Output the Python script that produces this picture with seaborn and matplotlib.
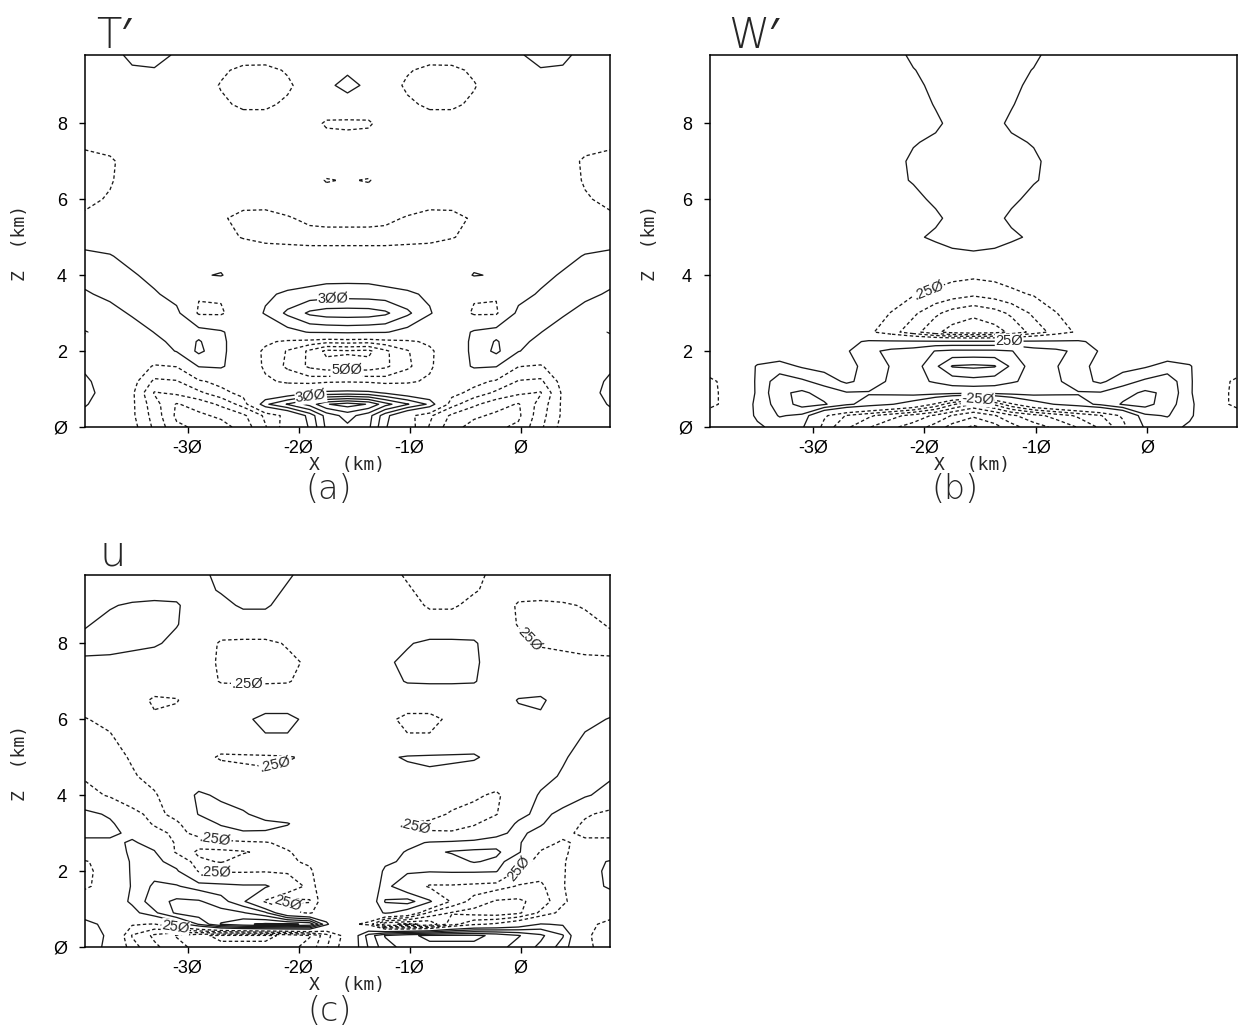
import numpy as np
import matplotlib
matplotlib.use("Agg")
import matplotlib.pyplot as plt
import seaborn as sns

# ---------------- data ----------------
x_km = [-39.25, -37, -35, -33, -31, -29, -27, -25, -23, -21, -19, -17.5, -15.6,
        -13.7, -12.2, -10.2, -8.2, -6.2, -4.2, -2.2, -0.2, 1.8, 3.8, 5.8, 8.05]
z_tw = [0, 0.3, 0.6, 0.9, 1.2, 1.6, 2.0, 2.25, 2.5, 3.0, 3.5, 4.0, 4.5, 5.0, 5.5,
        6.0, 6.5, 7.0, 7.5, 8.0, 8.5, 9.0, 9.4, 9.8]
z_u = [0, 0.3, 0.6, 0.9, 1.2, 1.6, 2.0, 2.25, 2.5, 2.75, 3.0, 3.25, 3.5, 4.0, 4.5,
       5.0, 5.5, 6.0, 6.5, 7.0, 7.5, 8.0, 8.5, 9.0, 9.4, 9.8]

T_prime = [
    [0.0, 0.0, -0.15, -0.55, -0.95, -1.05, -1.1, -0.9, -0.52, -0.1, 0.28, 0.8, 0.95, 0.8, 0.28, -0.1, -0.52, -0.9, -1.1, -1.05, -0.95, -0.55, -0.15, 0.0, 0.0],
    [0.15, 0.0, -0.2, -0.6, -1.05, -1.05, -0.95, -0.8, -0.45, -0.15, 0.35, 0.85, 1.1, 0.85, 0.35, -0.15, -0.45, -0.8, -0.95, -1.05, -1.05, -0.6, -0.2, 0.0, 0.15],
    [0.28, 0.05, -0.2, -0.65, -1.02, -0.9, -0.7, -0.4, 0.45, 0.77, 1.1, 1.48, 1.62, 1.48, 1.1, 0.77, 0.45, -0.4, -0.7, -0.9, -1.02, -0.65, -0.2, 0.05, 0.28],
    [0.35, 0.1, -0.2, -0.77, -0.7, -0.55, -0.35, -0.15, -0.05, 0.05, 0.22, 0.33, 0.36, 0.33, 0.22, 0.05, -0.05, -0.15, -0.35, -0.55, -0.7, -0.77, -0.2, 0.1, 0.35],
    [0.3, 0.1, -0.15, -0.55, -0.52, -0.3, -0.15, -0.05, -0.2, -0.3, -0.35, -0.3, -0.28, -0.3, -0.35, -0.3, -0.2, -0.05, -0.15, -0.3, -0.52, -0.55, -0.15, 0.1, 0.3],
    [0.2, 0.0, -0.05, -0.28, -0.24, 0.27, 0.3, 0.0, -0.3, -0.55, -0.8, -0.9, -0.9, -0.9, -0.8, -0.55, -0.3, 0.0, 0.3, 0.27, -0.24, -0.28, -0.05, 0.0, 0.2],
    [0.0, 0.0, -0.05, 0.05, 0.27, 0.55, 0.35, -0.05, -0.3, -0.52, -0.8, -1.06, -1.03, -1.06, -0.8, -0.52, -0.3, -0.05, 0.35, 0.55, 0.27, 0.05, -0.05, 0.0, 0.0],
    [-0.15, -0.05, 0.0, 0.15, 0.35, 0.52, 0.35, -0.05, -0.2, -0.3, -0.35, -0.42, -0.4, -0.42, -0.35, -0.3, -0.2, -0.05, 0.35, 0.52, 0.35, 0.15, 0.0, -0.05, -0.15],
    [-0.27, -0.1, 0.05, 0.26, 0.4, 0.42, 0.3, 0.0, -0.1, 0.15, 0.27, 0.28, 0.3, 0.28, 0.27, 0.15, -0.1, 0.0, 0.3, 0.42, 0.4, 0.26, 0.05, -0.1, -0.27],
    [0.0, 0.1, 0.3, 0.4, 0.35, -0.3, -0.3, 0.0, 0.28, 0.55, 0.8, 0.87, 0.88, 0.87, 0.8, 0.55, 0.28, 0.0, -0.3, -0.3, 0.35, 0.4, 0.3, 0.1, 0.0],
    [0.2, 0.35, 0.4, 0.3, 0.1, -0.22, -0.2, 0.05, 0.2, 0.3, 0.35, 0.37, 0.38, 0.37, 0.35, 0.3, 0.2, 0.05, -0.2, -0.22, 0.1, 0.3, 0.4, 0.35, 0.2],
    [0.4, 0.4, 0.3, 0.12, 0.05, 0.22, 0.27, 0.05, 0.0, 0.05, 0.1, 0.15, 0.15, 0.15, 0.1, 0.05, 0.0, 0.05, 0.27, 0.22, 0.05, 0.12, 0.3, 0.4, 0.4],
    [0.35, 0.28, 0.1, 0.0, 0.0, 0.05, 0.12, 0.0, -0.1, -0.12, -0.15, -0.15, -0.15, -0.15, -0.15, -0.12, -0.1, 0.0, 0.12, 0.05, 0.0, 0.0, 0.1, 0.28, 0.35],
    [0.05, 0.0, 0.0, 0.0, -0.05, -0.1, -0.15, -0.27, -0.32, -0.33, -0.33, -0.33, -0.33, -0.33, -0.33, -0.33, -0.32, -0.27, -0.15, -0.1, -0.05, 0.0, 0.0, 0.0, 0.05],
    [-0.2, -0.1, -0.05, 0.0, -0.05, -0.1, -0.22, -0.32, -0.33, -0.27, -0.2, -0.18, -0.18, -0.18, -0.2, -0.27, -0.33, -0.32, -0.22, -0.1, -0.05, 0.0, -0.05, -0.1, -0.2],
    [-0.32, -0.22, -0.1, -0.05, -0.05, -0.05, -0.1, -0.15, -0.15, -0.12, -0.1, -0.1, -0.1, -0.1, -0.1, -0.12, -0.15, -0.15, -0.1, -0.05, -0.05, -0.05, -0.1, -0.22, -0.32],
    [-0.4, -0.28, -0.1, -0.05, 0.0, 0.0, 0.0, -0.05, -0.05, -0.05, -0.12, -0.27, -0.23, -0.27, -0.12, -0.05, -0.05, -0.05, 0.0, 0.0, 0.0, -0.05, -0.1, -0.28, -0.4],
    [-0.4, -0.3, -0.1, 0.0, 0.0, 0.0, 0.0, 0.0, 0.0, 0.0, 0.0, -0.05, -0.05, -0.05, 0.0, 0.0, 0.0, 0.0, 0.0, 0.0, 0.0, 0.0, -0.1, -0.3, -0.4],
    [-0.15, -0.12, -0.05, 0.0, 0.0, 0.0, 0.0, -0.05, -0.05, -0.05, -0.05, -0.1, -0.1, -0.1, -0.05, -0.05, -0.05, -0.05, 0.0, 0.0, 0.0, 0.0, -0.05, -0.12, -0.15],
    [0.0, 0.0, 0.0, -0.05, -0.05, -0.1, -0.1, -0.12, -0.12, -0.1, -0.1, -0.3, -0.33, -0.3, -0.1, -0.1, -0.12, -0.12, -0.1, -0.1, -0.05, -0.05, 0.0, 0.0, 0.0],
    [0.0, 0.0, 0.0, -0.05, -0.1, -0.15, -0.2, -0.3, -0.3, -0.2, -0.1, 0.0, 0.1, 0.0, -0.1, -0.2, -0.3, -0.3, -0.2, -0.15, -0.1, -0.05, 0.0, 0.0, 0.0],
    [0.05, 0.1, 0.1, 0.05, 0.0, -0.1, -0.27, -0.4, -0.4, -0.3, -0.1, 0.18, 0.35, 0.18, -0.1, -0.3, -0.4, -0.4, -0.27, -0.1, 0.0, 0.05, 0.1, 0.1, 0.05],
    [0.0, 0.08, 0.2, 0.22, 0.1, -0.05, -0.2, -0.32, -0.33, -0.22, -0.05, 0.08, 0.2, 0.08, -0.05, -0.22, -0.33, -0.32, -0.2, -0.05, 0.1, 0.22, 0.2, 0.08, 0.0],
    [0.0, 0.1, 0.35, 0.4, 0.2, 0.0, -0.05, -0.1, -0.1, -0.05, 0.0, 0.05, 0.1, 0.05, 0.0, -0.05, -0.1, -0.1, -0.05, 0.0, 0.2, 0.4, 0.35, 0.1, 0.0],
]

W_prime = [
    [0.0, 0.05, 0.2, 0.35, 0.3, -0.35, -0.7, -0.98, -1.2, -1.35, -1.6, -1.85, -2.05, -1.85, -1.6, -1.35, -1.2, -0.98, -0.7, -0.35, 0.3, 0.35, 0.2, 0.05, 0.0],
    [-0.15, 0.0, 0.3, 0.52, 0.45, -0.2, -0.52, -0.7, -0.9, -1.1, -1.3, -1.52, -1.7, -1.52, -1.3, -1.1, -0.9, -0.7, -0.52, -0.2, 0.45, 0.52, 0.3, 0.0, -0.15],
    [-0.3, -0.15, 0.35, 0.6, 0.85, 0.78, 0.55, 0.4, 0.27, 0.1, -0.3, -0.7, -1.02, -0.7, -0.3, 0.1, 0.27, 0.4, 0.55, 0.78, 0.85, 0.6, 0.35, -0.15, -0.3],
    [-0.3, -0.15, 0.3, 0.7, 0.8, 0.65, 0.52, 0.52, 0.55, 0.6, 0.6, 0.58, 0.55, 0.58, 0.6, 0.6, 0.55, 0.52, 0.52, 0.65, 0.8, 0.7, 0.3, -0.15, -0.3],
    [-0.3, -0.12, 0.3, 0.65, 0.55, 0.4, 0.2, 0.35, 0.55, 0.7, 0.77, 0.85, 0.9, 0.85, 0.77, 0.7, 0.55, 0.35, 0.2, 0.4, 0.55, 0.65, 0.3, -0.12, -0.3],
    [-0.1, -0.05, 0.28, 0.35, 0.22, 0.15, 0.2, 0.3, 0.52, 0.62, 0.95, 1.27, 1.3, 1.27, 0.95, 0.62, 0.52, 0.3, 0.2, 0.15, 0.22, 0.35, 0.28, -0.05, -0.1],
    [0.0, -0.05, 0.0, 0.05, 0.05, 0.05, 0.22, 0.45, 0.55, 0.6, 0.76, 0.8, 0.8, 0.8, 0.76, 0.6, 0.55, 0.45, 0.22, 0.05, 0.05, 0.05, 0.0, -0.05, 0.0],
    [0.0, 0.0, 0.0, 0.0, 0.0, 0.05, 0.15, 0.3, 0.3, 0.3, 0.3, 0.3, 0.3, 0.3, 0.3, 0.3, 0.3, 0.3, 0.15, 0.05, 0.0, 0.0, 0.0, 0.0, 0.0],
    [0.0, 0.0, 0.0, 0.0, 0.0, 0.0, -0.05, -0.2, -0.4, -0.65, -0.95, -1.1, -1.15, -1.1, -0.95, -0.65, -0.4, -0.2, -0.05, 0.0, 0.0, 0.0, 0.0, 0.0, 0.0],
    [0.0, 0.0, 0.0, 0.0, 0.0, 0.0, -0.05, -0.1, -0.26, -0.45, -0.7, -0.85, -0.95, -0.85, -0.7, -0.45, -0.26, -0.1, -0.05, 0.0, 0.0, 0.0, 0.0, 0.0, 0.0],
    [0.0, 0.0, 0.0, 0.0, 0.0, 0.0, 0.0, 0.0, -0.1, -0.23, -0.3, -0.38, -0.45, -0.38, -0.3, -0.23, -0.1, 0.0, 0.0, 0.0, 0.0, 0.0, 0.0, 0.0, 0.0],
    [0.0, 0.0, 0.0, 0.0, 0.0, 0.0, 0.0, 0.0, -0.05, -0.1, -0.15, -0.18, -0.2, -0.18, -0.15, -0.1, -0.05, 0.0, 0.0, 0.0, 0.0, 0.0, 0.0, 0.0, 0.0],
    [0.0, 0.0, 0.0, 0.0, 0.0, 0.0, 0.0, 0.0, 0.0, 0.05, 0.1, 0.2, 0.22, 0.2, 0.1, 0.05, 0.0, 0.0, 0.0, 0.0, 0.0, 0.0, 0.0, 0.0, 0.0],
    [0.0, 0.0, 0.0, 0.0, 0.0, 0.0, 0.0, 0.0, 0.05, 0.2, 0.3, 0.32, 0.33, 0.32, 0.3, 0.2, 0.05, 0.0, 0.0, 0.0, 0.0, 0.0, 0.0, 0.0, 0.0],
    [0.0, 0.0, 0.0, 0.0, 0.0, 0.0, 0.0, 0.0, 0.05, 0.1, 0.2, 0.32, 0.33, 0.32, 0.2, 0.1, 0.05, 0.0, 0.0, 0.0, 0.0, 0.0, 0.0, 0.0, 0.0],
    [0.0, 0.0, 0.0, 0.0, 0.0, 0.0, 0.0, 0.0, 0.1, 0.18, 0.3, 0.33, 0.35, 0.33, 0.3, 0.18, 0.1, 0.0, 0.0, 0.0, 0.0, 0.0, 0.0, 0.0, 0.0],
    [0.0, 0.0, 0.0, 0.0, 0.0, 0.0, 0.0, 0.05, 0.18, 0.27, 0.32, 0.35, 0.36, 0.35, 0.32, 0.27, 0.18, 0.05, 0.0, 0.0, 0.0, 0.0, 0.0, 0.0, 0.0],
    [0.0, 0.0, 0.0, 0.0, 0.0, 0.0, 0.0, 0.05, 0.15, 0.3, 0.33, 0.35, 0.36, 0.35, 0.33, 0.3, 0.15, 0.05, 0.0, 0.0, 0.0, 0.0, 0.0, 0.0, 0.0],
    [0.0, 0.0, 0.0, 0.0, 0.0, 0.0, 0.0, 0.05, 0.1, 0.23, 0.3, 0.33, 0.35, 0.33, 0.3, 0.23, 0.1, 0.05, 0.0, 0.0, 0.0, 0.0, 0.0, 0.0, 0.0],
    [0.0, 0.0, 0.0, 0.0, 0.0, 0.0, 0.0, 0.0, 0.05, 0.1, 0.2, 0.32, 0.34, 0.32, 0.2, 0.1, 0.05, 0.0, 0.0, 0.0, 0.0, 0.0, 0.0, 0.0, 0.0],
    [0.0, 0.0, 0.0, 0.0, 0.0, 0.0, 0.0, 0.0, 0.05, 0.12, 0.27, 0.33, 0.35, 0.33, 0.27, 0.12, 0.05, 0.0, 0.0, 0.0, 0.0, 0.0, 0.0, 0.0, 0.0],
    [0.0, 0.0, 0.0, 0.0, 0.0, 0.0, 0.0, 0.03, 0.08, 0.2, 0.3, 0.34, 0.36, 0.34, 0.3, 0.2, 0.08, 0.03, 0.0, 0.0, 0.0, 0.0, 0.0, 0.0, 0.0],
    [0.0, 0.0, 0.0, 0.0, 0.0, 0.0, 0.03, 0.05, 0.1, 0.24, 0.33, 0.36, 0.38, 0.36, 0.33, 0.24, 0.1, 0.05, 0.03, 0.0, 0.0, 0.0, 0.0, 0.0, 0.0],
    [0.0, 0.0, 0.0, 0.0, 0.0, 0.0, 0.05, 0.08, 0.15, 0.3, 0.35, 0.38, 0.4, 0.38, 0.35, 0.3, 0.15, 0.08, 0.05, 0.0, 0.0, 0.0, 0.0, 0.0, 0.0],
]

u_wind = [
    [0.35, 0.2, -0.4, -0.7, -0.9, -1.1, -1.2, -1.2, -1.2, -1.1, -0.9, -0.52, -0.05, 0.52, 0.9, 1.1, 1.2, 1.2, 1.2, 1.1, 0.9, 0.7, 0.4, -0.2, -0.35],
    [0.4, 0.2, -0.52, -0.8, -1.02, -1.2, -1.3, -1.3, -1.3, -1.2, -1.02, -0.6, -0.1, 0.6, 1.02, 1.2, 1.3, 1.3, 1.3, 1.2, 1.02, 0.8, 0.52, -0.2, -0.4],
    [0.35, 0.15, -0.22, -0.27, 0.05, 0.52, 1.02, 1.2, 1.3, 1.3, 1.2, 0.3, -0.2, -0.3, -1.2, -1.3, -1.2, -0.6, -0.3, -0.2, 0.0, 0.27, 0.22, -0.15, -0.35],
    [0.1, 0.0, 0.15, 0.45, 0.8, 0.9, 0.85, 0.77, 0.55, -0.1, -0.3, 0.05, 0.0, -0.05, 0.3, 0.1, -0.55, -0.77, -0.85, -0.9, -0.8, -0.45, -0.15, 0.0, -0.1],
    [-0.05, 0.05, 0.3, 0.65, 0.8, 0.78, 0.6, 0.3, -0.3, -0.6, -0.52, 0.0, 0.0, 0.0, 0.52, 0.6, 0.3, -0.3, -0.6, -0.78, -0.8, -0.65, -0.3, -0.05, 0.05],
    [-0.3, -0.1, 0.28, 0.55, 0.52, 0.4, 0.35, 0.3, 0.3, 0.0, -0.35, -0.05, 0.0, 0.05, 0.35, 0.0, -0.3, -0.3, -0.35, -0.4, -0.52, -0.55, -0.28, 0.1, 0.3],
    [-0.3, -0.15, 0.3, 0.4, 0.3, -0.28, -0.3, -0.3, -0.28, -0.3, -0.3, 0.0, 0.0, 0.0, 0.3, 0.3, 0.28, 0.3, 0.3, 0.28, -0.3, -0.4, -0.3, 0.15, 0.3],
    [-0.28, -0.1, 0.3, 0.35, 0.1, -0.45, -0.52, -0.4, -0.35, -0.3, -0.2, 0.0, 0.0, 0.0, 0.2, 0.3, 0.35, 0.4, 0.52, 0.45, -0.1, -0.35, -0.3, 0.1, 0.28],
    [0.0, 0.1, 0.3, 0.28, -0.3, -0.55, -0.55, -0.52, -0.45, -0.28, -0.1, 0.0, 0.0, 0.0, 0.1, 0.28, 0.45, 0.52, 0.55, 0.55, 0.3, -0.28, -0.3, -0.1, 0.0],
    [0.1, 0.15, 0.3, 0.1, -0.3, -0.4, -0.35, -0.32, -0.28, -0.15, 0.0, 0.0, 0.0, 0.0, 0.0, 0.15, 0.28, 0.32, 0.35, 0.4, 0.3, -0.1, -0.3, -0.15, -0.1],
    [0.4, 0.35, 0.15, -0.1, -0.35, -0.15, 0.05, 0.22, 0.22, 0.15, 0.0, 0.0, 0.0, 0.0, 0.0, -0.15, -0.22, -0.22, -0.05, 0.15, 0.35, 0.1, -0.15, -0.35, -0.4],
    [0.4, 0.3, 0.05, -0.3, -0.3, 0.0, 0.3, 0.35, 0.33, 0.27, 0.05, 0.0, 0.0, 0.0, -0.05, -0.27, -0.33, -0.35, -0.3, 0.0, 0.3, 0.3, -0.05, -0.3, -0.4],
    [0.35, 0.2, -0.15, -0.35, -0.15, 0.27, 0.35, 0.3, 0.1, 0.0, 0.0, 0.0, 0.0, 0.0, 0.0, 0.0, -0.1, -0.3, -0.35, -0.27, 0.15, 0.35, 0.15, -0.2, -0.35],
    [-0.1, -0.3, -0.45, -0.3, 0.05, 0.3, 0.2, 0.05, 0.0, 0.0, 0.0, 0.0, 0.0, 0.0, 0.0, 0.0, 0.0, -0.05, -0.2, -0.3, -0.05, 0.3, 0.45, 0.3, 0.1],
    [-0.3, -0.45, -0.3, -0.1, 0.0, 0.05, 0.0, -0.15, -0.2, -0.15, -0.05, 0.0, 0.0, 0.0, 0.05, 0.15, 0.2, 0.15, 0.0, -0.05, 0.0, 0.1, 0.3, 0.45, 0.3],
    [-0.45, -0.42, -0.2, -0.05, 0.0, -0.1, -0.3, -0.3, -0.3, -0.28, -0.2, 0.0, 0.0, 0.0, 0.2, 0.28, 0.3, 0.3, 0.3, 0.1, 0.0, 0.05, 0.2, 0.42, 0.45],
    [-0.42, -0.3, -0.05, 0.0, 0.0, 0.0, 0.0, 0.08, 0.2, 0.2, 0.05, 0.0, 0.0, 0.0, -0.05, -0.2, -0.2, -0.08, 0.0, 0.0, 0.0, 0.0, 0.05, 0.3, 0.42],
    [-0.27, -0.15, -0.1, -0.2, -0.15, 0.0, 0.05, 0.15, 0.38, 0.38, 0.12, 0.0, 0.0, 0.0, -0.12, -0.38, -0.38, -0.15, -0.05, 0.0, 0.15, 0.2, 0.1, 0.15, 0.27],
    [-0.05, -0.05, -0.1, -0.3, -0.27, -0.05, -0.05, -0.05, -0.05, -0.05, 0.0, 0.0, 0.0, 0.0, 0.0, 0.05, 0.05, 0.05, 0.05, 0.05, 0.27, 0.3, 0.1, 0.05, 0.05],
    [0.05, 0.0, 0.0, -0.05, -0.05, -0.1, -0.27, -0.28, -0.28, -0.27, -0.15, 0.0, 0.0, 0.0, 0.15, 0.27, 0.28, 0.28, 0.27, 0.1, 0.05, 0.05, 0.0, 0.0, -0.05],
    [0.2, 0.15, 0.1, 0.05, 0.0, -0.1, -0.3, -0.38, -0.38, -0.32, -0.2, -0.05, 0.0, 0.05, 0.2, 0.32, 0.38, 0.38, 0.3, 0.1, 0.0, -0.05, -0.1, -0.15, -0.2],
    [0.35, 0.4, 0.35, 0.3, 0.15, 0.0, -0.3, -0.33, -0.33, -0.22, -0.05, 0.0, 0.0, 0.0, 0.05, 0.22, 0.33, 0.33, 0.3, 0.0, -0.15, -0.3, -0.35, -0.4, -0.35],
    [0.22, 0.35, 0.4, 0.4, 0.27, 0.05, 0.0, 0.05, 0.05, 0.0, -0.05, -0.05, 0.0, 0.05, 0.05, 0.0, -0.05, -0.05, 0.0, -0.05, -0.27, -0.4, -0.4, -0.35, -0.22],
    [0.1, 0.22, 0.3, 0.32, 0.28, 0.1, 0.15, 0.3, 0.3, 0.1, -0.05, -0.1, 0.0, 0.1, 0.05, -0.1, -0.3, -0.3, -0.15, -0.1, -0.28, -0.32, -0.3, -0.22, -0.1],
    [-0.05, 0.0, 0.05, 0.1, 0.15, 0.15, 0.28, 0.4, 0.4, 0.2, 0.05, -0.05, 0.0, 0.05, -0.05, -0.2, -0.4, -0.4, -0.28, -0.15, -0.15, -0.1, -0.05, 0.0, 0.05],
    [-0.15, -0.15, -0.1, 0.0, 0.05, 0.15, 0.35, 0.45, 0.45, 0.3, 0.1, 0.0, 0.0, 0.0, -0.1, -0.3, -0.45, -0.45, -0.35, -0.15, -0.05, 0.0, 0.1, 0.15, 0.15],
]

x_ticks = [-30, -20, -10, 0]
x_tick_labels = ["-3\u00d8", "-2\u00d8", "-1\u00d8", "\u00d8"]
z_ticks = [0, 2, 4, 6, 8]
z_tick_labels = ["\u00d8", "2", "4", "6", "8"]
pos_levels = [0.25, 0.5, 0.75, 1.0, 1.25, 1.5, 1.75, 2.0, 2.25, 2.5]
neg_levels = [-2.5, -2.25, -2.0, -1.75, -1.5, -1.25, -1.0, -0.75, -0.5, -0.25]

# contour labels: (level, approximate position, text)
labels_T = [(0.5, (-16.9, 3.37), "3\u00d8\u00d8"),
            (-0.75, (-15.7, 1.44), "5\u00d8\u00d8"),
            (0.5, (-18.9, 0.8), "3\u00d8\u00d8")]
labels_W = [(-0.25, (-19.5, 3.5), ".25\u00d8"),
            (0.25, (-12.4, 2.26), "25\u00d8"),
            (-0.25, (-15.2, 0.76), "-25\u00d8")]
labels_u = [(-0.25, (-24.6, 6.97), ".25\u00d8"),
            (-0.25, (0.4, 8.0), "25\u00d8"),
            (-0.25, (-22.0, 4.65), ".25\u00d8"),
            (-0.25, (-27.5, 2.88), ".25\u00d8"),
            (-0.25, (-27.5, 1.9), ".25\u00d8"),
            (-0.25, (-9.5, 3.2), ".25\u00d8"),
            (-0.25, (-0.4, 2.15), "25\u00d8"),
            (-0.25, (-31.1, 0.5), "25\u00d8"),
            (-0.5, (-21.0, 0.95), "25\u00d8")]

# ---------------- style ----------------
sns.set_theme(style="ticks")
plt.rcParams["font.family"] = ["Liberation Sans", "DejaVu Sans"]
plt.rcParams["lines.dashed_pattern"] = [2.6, 1.9]
plt.rcParams["axes.linewidth"] = 1.1
plt.rcParams["axes.edgecolor"] = "black"

W, H = 1239, 1032
fig = plt.figure(figsize=(W / 100, H / 100), dpi=100)


def px_axes(left, top, right, bottom):
    return fig.add_axes([left / W, 1 - bottom / H, (right - left) / W, (bottom - top) / H])


def put_label(ax, cs, lev, target, txt):
    levs = [float(v) for v in cs.levels]
    if lev not in levs:
        return
    segs = cs.allsegs[levs.index(lev)]
    tx, ty = ax.transData.transform(target)
    best = None
    for seg in segs:
        if len(seg) < 2:
            continue
        d = ax.transData.transform(np.asarray(seg))
        a, b = d[:-1], d[1:]
        ab = b - a
        L2 = (ab ** 2).sum(axis=1)
        L2[L2 == 0] = 1e-9
        t = np.clip(((tx - a[:, 0]) * ab[:, 0] + (ty - a[:, 1]) * ab[:, 1]) / L2, 0, 1)
        p = a + ab * t[:, None]
        dist = np.hypot(p[:, 0] - tx, p[:, 1] - ty)
        k = int(np.argmin(dist))
        if best is None or dist[k] < best[0]:
            best = (dist[k], p[k], ab[k])
    if best is None:
        return
    _, p, ab = best
    ang = np.degrees(np.arctan2(ab[1], ab[0]))
    if ang > 90:
        ang -= 180
    if ang < -90:
        ang += 180
    x, y = ax.transData.inverted().transform(p)
    ax.text(x, y, txt, rotation=ang, rotation_mode="anchor", ha="center",
            va="center", fontsize=10.5, zorder=5,
            bbox=dict(facecolor="white", edgecolor="none", pad=0.4))


def draw(ax, field, zvals, labels):
    ax.set_xlim(-39.25, 8.05)
    ax.set_ylim(0, 9.8)
    F = np.array(field)
    cs_p = ax.contour(x_km, zvals, F, levels=pos_levels, colors="k",
                      linewidths=0.95, linestyles="solid")
    cs_n = ax.contour(x_km, zvals, F, levels=neg_levels, colors="k",
                      linewidths=0.95, linestyles="dashed")
    ax.set_xlim(-39.25, 8.05)
    ax.set_ylim(0, 9.8)
    for lev, pos, txt in labels:
        put_label(ax, cs_p if lev > 0 else cs_n, lev, pos, txt)
    ax.set_xticks(x_ticks)
    ax.set_xticklabels(x_tick_labels)
    ax.set_yticks(z_ticks)
    ax.set_yticklabels(z_tick_labels)
    ax.tick_params(axis="both", direction="out", length=4, width=1.0,
                   labelsize=13, colors="black")
    ax.tick_params(axis="x", pad=5)
    ax.tick_params(axis="y", pad=9)
    for s in ax.spines.values():
        s.set_visible(True)
        s.set_color("black")


ax_a = px_axes(85, 55, 610, 427)
ax_b = px_axes(710, 55, 1237, 427)
ax_c = px_axes(85, 575, 610, 947)

draw(ax_a, T_prime, z_tw, labels_T)
draw(ax_b, W_prime, z_tw, labels_W)
draw(ax_c, u_wind, z_u, labels_u)

# axis labels, titles, panel letters
label_fam = ["DejaVu Sans Mono", "DejaVu Sans"]
for cx, cy in [(347, 465), (972, 465), (347, 985)]:
    fig.text(cx / W, 1 - cy / H, "X  (km)", ha="center", va="center",
             fontsize=13, family=label_fam)
for cx, cy in [(20, 243), (650, 243), (20, 763)]:
    fig.text(cx / W, 1 - cy / H, "Z  (km)", ha="center", va="center",
             rotation=90, fontsize=13, family=label_fam)
title_fam = ["DejaVu Sans", "Noto Sans", "Liberation Sans"]
fig.text(96 / W, 1 - 48 / H, "T\u2032", ha="left", va="baseline", fontsize=30,
         family=title_fam, fontweight="light")
fig.text(728 / W, 1 - 48 / H, "W\u2032", ha="left", va="baseline", fontsize=30,
         family=title_fam, fontweight="light")
fig.text(100 / W, 1 - 566 / H, "u", ha="left", va="baseline", fontsize=30,
         family=title_fam, fontweight="light")
fig.text(329 / W, 1 - 499 / H, "(a)", ha="center", va="baseline", fontsize=24,
         family=title_fam, fontweight="light")
fig.text(955 / W, 1 - 499 / H, "(b)", ha="center", va="baseline", fontsize=24,
         family=title_fam, fontweight="light")
fig.text(330 / W, 1 - 1021 / H, "(c)", ha="center", va="baseline", fontsize=24,
         family=title_fam, fontweight="light")

fig.savefig("out.png", dpi=100, facecolor="white")
